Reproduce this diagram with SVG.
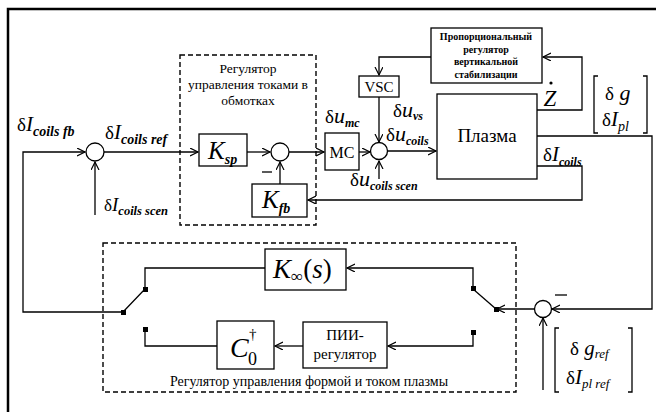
<svg xmlns="http://www.w3.org/2000/svg" width="656" height="412" viewBox="0 0 656 412">
<defs>
<marker id="arr" markerUnits="userSpaceOnUse" markerWidth="10" markerHeight="10" refX="8" refY="4" orient="auto">
<path d="M0,0 L8,4 L0,8" fill="none" stroke="#000" stroke-width="1.2"/>
</marker>
</defs>
<style>
.ln{fill:none;stroke:#000;stroke-width:1.3}
.bx{fill:#fff;stroke:#000;stroke-width:1.3}
.dash{fill:none;stroke:#000;stroke-width:1.4;stroke-dasharray:5,3}
.sum{fill:#fff;stroke:#000;stroke-width:1.3}
.t{font-family:"Liberation Serif",serif;fill:#000}
.m{font-family:"Liberation Serif",serif;fill:#000;font-style:italic}
.sub{font-family:"Liberation Serif",serif;font-style:italic;font-weight:bold}
.sq{fill:#000}
</style>
<rect width="656" height="412" fill="#fff"/>
<path d="M8,412 V9 H656" fill="none" stroke="#000" stroke-width="2.5"/>

<g id="box-current-reg">
<rect class="dash" x="180" y="55" width="136" height="170"/>
<text class="t" font-size="13.5" text-anchor="middle"><tspan x="248" y="73">Регулятор</tspan><tspan x="248" y="89">управления токами в</tspan><tspan x="248" y="105">обмотках</tspan></text>
</g>
<g id="box-shape-reg">
<rect class="dash" x="103" y="243" width="413" height="149"/>
<text class="t" font-size="14" x="309" y="386" text-anchor="middle">Регулятор управления формой и током плазмы</text>
</g>

<g id="connectors">
<path class="ln" d="M123,312 H23 V152 H85" marker-end="url(#arr)"/>
<path class="ln" d="M95,215 V162" marker-end="url(#arr)"/>
<path class="ln" d="M104,152 H198" marker-end="url(#arr)"/>
<path class="ln" d="M247,152 H270" marker-end="url(#arr)"/>
<path class="ln" d="M280,184 V162" marker-end="url(#arr)"/>
<path class="ln" d="M289,152 H324" marker-end="url(#arr)"/>
<path class="ln" d="M359,152 H370" marker-end="url(#arr)"/>
<path class="ln" d="M431,57 H379 V75" marker-end="url(#arr)"/>
<path class="ln" d="M379,97 V142" marker-end="url(#arr)"/>
<path class="ln" d="M379,179 V161" marker-end="url(#arr)"/>
<path class="ln" d="M388,151 H436" marker-end="url(#arr)"/>
<path class="ln" d="M537,110 H582 V57 H543" marker-end="url(#arr)"/>
<path class="ln" d="M537,166 H582 V200 H308" marker-end="url(#arr)"/>
<path class="ln" d="M537,136 H652 V309 H552" marker-end="url(#arr)"/>
<path class="ln" d="M543,390 V318" marker-end="url(#arr)"/>
<path class="ln" d="M534,309 H497" marker-end="url(#arr)"/>
<path class="ln" d="M496,309 L473,289"/>
<path class="ln" d="M473,288 V268 H347" marker-end="url(#arr)"/>
<path class="ln" d="M473,332 V346 H388" marker-end="url(#arr)"/>
<path class="ln" d="M303,346 H275" marker-end="url(#arr)"/>
<path class="ln" d="M217,346 H145 V330"/>
<path class="ln" d="M265,268 H145 V289 L123,312"/>
<rect class="sq" x="121" y="310" width="5" height="5"/>
<rect class="sq" x="143" y="287" width="5" height="5"/>
<rect class="sq" x="143" y="327" width="5" height="5"/>
<rect class="sq" x="494" y="307" width="5" height="5"/>
<rect class="sq" x="471" y="286" width="5" height="5"/>
<rect class="sq" x="471" y="330" width="5" height="5"/>
</g>

<g id="sum1"><circle class="sum" cx="95" cy="152" r="9"/></g>
<g id="sum2"><circle class="sum" cx="280" cy="152" r="9"/><path class="ln" d="M262,172 H272"/></g>
<g id="sum3"><circle class="sum" cx="379" cy="151" r="8.5"/></g>
<g id="sum4"><circle class="sum" cx="543" cy="309" r="8.5"/><path class="ln" d="M555,295 H567"/></g>

<g id="Ksp"><rect class="bx" x="199" y="134" width="48" height="32"/>
<text class="m" x="208" y="159" font-size="25">K<tspan font-size="14" font-weight="bold" dy="5">sp</tspan></text></g>
<g id="Kfb"><rect class="bx" x="252" y="184" width="55" height="33"/>
<text class="m" x="262" y="208" font-size="25">K<tspan font-size="14" font-weight="bold" dy="5">fb</tspan></text></g>
<g id="MC"><rect class="bx" x="325" y="133" width="34" height="37"/>
<text class="t" x="342" y="158" font-size="16" text-anchor="middle">MC</text></g>
<g id="VSC"><rect class="bx" x="359" y="76" width="40" height="21"/>
<text class="t" x="379" y="92" font-size="15" text-anchor="middle">VSC</text></g>
<g id="prop-reg"><rect class="bx" x="431" y="28" width="111" height="55"/>
<text class="t" font-size="10" font-weight="bold" text-anchor="middle"><tspan x="486" y="40">Пропорциональный</tspan><tspan x="486" y="53">регулятор</tspan><tspan x="486" y="65">вертикальной</tspan><tspan x="486" y="78">стабилизации</tspan></text></g>
<g id="plasma"><rect class="bx" x="437" y="94" width="100" height="85"/>
<text class="t" x="487" y="142" font-size="19" text-anchor="middle">Плазма</text></g>
<g id="Kinf"><rect class="bx" x="265" y="249" width="81" height="41"/>
<text class="m" x="273" y="278" font-size="27">K<tspan font-size="17" font-style="normal" dy="4">∞</tspan><tspan font-style="normal" dy="-4">(</tspan>s<tspan font-style="normal">)</tspan></text></g>
<g id="C0"><rect class="bx" x="217" y="321" width="57" height="48"/>
<text class="m" x="230" y="357" font-size="28">C</text>
<text class="t" x="248" y="365" font-size="18">0</text>
<text class="t" x="249" y="339" font-size="15">†</text></g>
<g id="PII"><rect class="bx" x="303" y="322" width="84" height="46"/>
<text class="t" font-size="15" text-anchor="middle"><tspan x="345" y="340">ПИИ-</tspan><tspan x="345" y="359">регулятор</tspan></text></g>

<g id="labels">
<text class="t" x="17" y="131" font-size="19">δ<tspan class="m" font-size="21">I</tspan><tspan class="sub" font-size="14" dy="5">coils fb</tspan></text>
<text class="t" x="105" y="139" font-size="19">δ<tspan class="m" font-size="21">I</tspan><tspan class="sub" font-size="14" dy="5">coils ref</tspan></text>
<text class="t" x="104" y="211" font-size="17">δ<tspan class="m" font-size="19">I</tspan><tspan class="sub" font-size="12.5" dy="4">coils scen</tspan></text>
<text class="t" x="325" y="123" font-size="19">δ<tspan class="m" font-size="22">u</tspan><tspan class="sub" font-size="12" dy="4">mc</tspan></text>
<text class="t" x="393" y="117" font-size="19">δ<tspan class="m" font-size="22">u</tspan><tspan class="sub" font-size="12" dy="3">vs</tspan></text>
<text class="t" x="386" y="141" font-size="19">δ<tspan class="m" font-size="22">u</tspan><tspan class="sub" font-size="12" dy="4">coils</tspan></text>
<text class="t" x="350" y="186" font-size="19">δ<tspan class="m" font-size="22">u</tspan><tspan class="sub" font-size="12" dy="4">coils scen</tspan></text>
<text class="m" x="550" y="106" font-size="23" text-anchor="middle">Z</text>
<circle cx="551" cy="83" r="1.6" fill="#000"/>
<text class="t" x="543" y="161" font-size="19">δ<tspan class="m" font-size="21">I</tspan><tspan class="sub" font-size="12" dy="5">coils</tspan></text>
<path class="ln" d="M598,76 H594 V133 H598 M643,76 H647 V133 H643"/>
<text class="t" x="605" y="100" font-size="19">δ<tspan class="m" font-size="22"> g</tspan></text>
<text class="t" x="602" y="126" font-size="19">δ<tspan class="m" font-size="21">I</tspan><tspan class="m" font-size="14" dy="5">pl</tspan></text>
<path class="ln" d="M559,328 H555 V392 H559 M628,328 H632 V392 H628"/>
<text class="t" x="570" y="355" font-size="19">δ<tspan class="m" font-size="21"> g</tspan><tspan class="m" font-size="13" dy="3">ref</tspan></text>
<text class="t" x="566" y="384" font-size="19">δ<tspan class="m" font-size="21">I</tspan><tspan class="m" font-size="13" dy="4">pl ref</tspan></text>
</g>
</svg>
